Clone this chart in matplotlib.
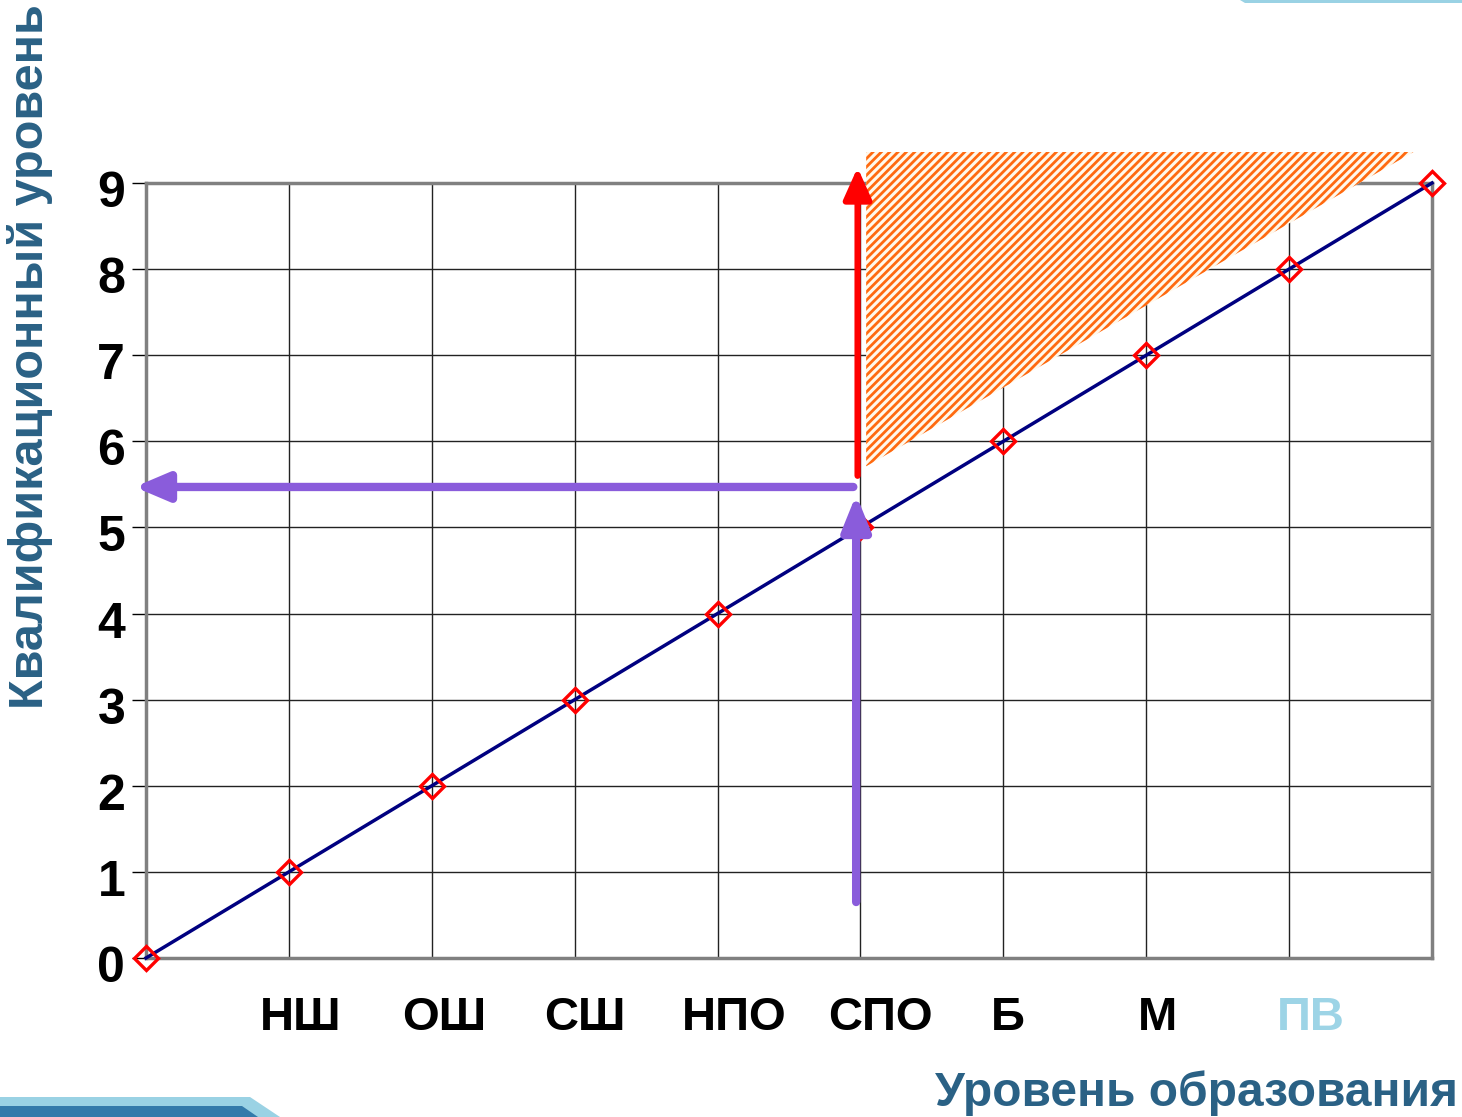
import matplotlib
matplotlib.use("Agg")
import matplotlib.pyplot as plt
from matplotlib.patches import Polygon
import matplotlib.patches as mpatches
import matplotlib.transforms as mtransforms

plt.rcParams['font.family'] = ['Liberation Sans', 'DejaVu Sans']
plt.rcParams['hatch.linewidth'] = 2.0

# ---- data ----
levels = [0, 1, 2, 3, 4, 5, 6, 7, 8, 9]
qualification = [0, 1, 2, 3, 4, 5, 6, 7, 8, 9]
categories = ["НШ", "ОШ", "СШ", "НПО", "СПО", "Б", "М", "ПВ"]
category_pos = [1.08, 2.09, 3.07, 4.12, 5.14, 6.03, 7.08, 8.15]
category_colors = ["black"] * 7 + ["#9DD4E6"]
yticks = [0, 1, 2, 3, 4, 5, 6, 7, 8, 9]
# hatched zone (x, y vertices)
zone_x = [5.04, 8.87, 5.04]
zone_y = [5.71, 9.36, 9.36]
# arrows
red_arrow = (4.98, 5.60, 9.18)        # x, y_start, y_end
purple_up = (4.97, 0.65, 5.38)        # x, y_start, y_end
purple_left = (5.47, 4.95, -0.08)     # y, x_start, x_end

W, H = 1462, 1117
fig = plt.figure(figsize=(W / 100, H / 100), dpi=100)
ax = fig.add_axes([146 / W, 1 - 958 / H, (1432 - 146) / W, (958 - 183) / H])
ax.set_xlim(0, 9)
ax.set_ylim(0, 9)

# grid
for v in range(1, 9):
    ax.axvline(v, color="#222222", lw=1.0, zorder=1)
for v in range(1, 9):
    ax.axhline(v, color="#222222", lw=1.0, zorder=1)

for s in ax.spines.values():
    s.set_color("#808080")
    s.set_linewidth(2.5)

ax.set_xticks([])
ax.set_yticks(yticks)
ax.set_yticklabels([str(t) for t in yticks], fontsize=36, fontweight="bold")
ax.tick_params(axis="y", length=10, width=1, color="black", pad=5)
offset = mtransforms.ScaledTranslation(0, -6 / 100, fig.dpi_scale_trans)
for lab in ax.get_yticklabels():
    lab.set_transform(lab.get_transform() + offset)

# hatched zone
poly = Polygon(list(zip(zone_x, zone_y)), closed=True, facecolor="#FFF9EC",
               edgecolor="#FF6A10", hatch="////", lw=0, clip_on=False, zorder=3)
ax.add_patch(poly)

# main line
ax.plot(levels, qualification, color="#000080", lw=2.5, zorder=4, clip_on=False)
ax.plot(levels, qualification, linestyle="none", marker="D", ms=12,
        mfc="none", mec="#FF0000", mew=2.4, zorder=5, clip_on=False)

def arrow(x0, y0, x1, y1, color, lw, hw, hl):
    ax.annotate("", xy=(x1, y1), xytext=(x0, y0),
                arrowprops=dict(arrowstyle=f"-|>,head_width={hw},head_length={hl}",
                                color=color, lw=lw, shrinkA=0, shrinkB=0),
                annotation_clip=False, zorder=6)

arrow(red_arrow[0], red_arrow[1], red_arrow[0], red_arrow[2], "#FF0000", 4.5, 0.85, 1.9)
arrow(purple_up[0], purple_up[1], purple_up[0], purple_up[2], "#8A5CDB", 6, 0.85, 2.1)
arrow(purple_left[1], purple_left[0], purple_left[2], purple_left[0], "#8A5CDB", 6, 0.85, 2.0)

# category labels
for name, xp, c in zip(categories, category_pos, category_colors):
    ax.text(xp, -0.70, name, ha="center", va="center", fontsize=34,
            fontweight="bold", color=c, clip_on=False)

title_color = "#2A6185"
fig.text(30 / W, 1 - 357 / H, "Квалификационный уровень", rotation=90,
         ha="center", va="center", fontsize=35, fontweight="bold", color=title_color)
fig.text(1458 / W, 1 - 1093 / H, "Уровень образования", ha="right", va="center",
         fontsize=34.5, fontweight="bold", color=title_color)

# decorative bands
light = "#9AD2E4"
dark = "#337AAA"
fig.patches.append(mpatches.Polygon([(0, 1 - 1097 / H), (250 / W, 1 - 1097 / H),
                                     (280 / W, 0), (0, 0)], closed=True,
                                    transform=fig.transFigure, facecolor=light, lw=0))
fig.patches.append(mpatches.Polygon([(0, 1 - 1106 / H), (242 / W, 1 - 1106 / H),
                                     (258 / W, 0), (0, 0)], closed=True,
                                    transform=fig.transFigure, facecolor=dark, lw=0))
fig.patches.append(mpatches.Polygon([(1240 / W, 1), (1, 1), (1, 1 - 3 / H),
                                     (1245 / W, 1 - 3 / H)], closed=True,
                                    transform=fig.transFigure, facecolor=light, lw=0))

fig.savefig("out.png", dpi=100)
